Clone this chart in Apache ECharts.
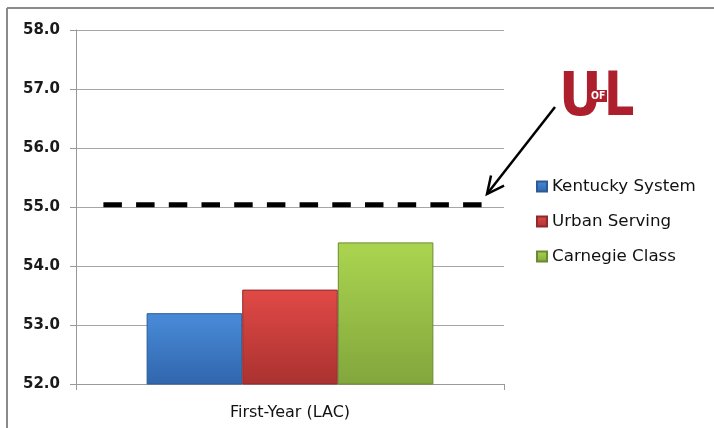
<!DOCTYPE html>
<html>
<head>
    <meta charset="utf-8">
    <title>First-Year (LAC)</title>
    <script src="https://cdn.jsdelivr.net/npm/echarts@6/dist/echarts.min.js"></script>
    <style>
        html, body { margin: 0; padding: 0; background: #fff; }
        #main { width: 714px; height: 428px; }
    </style>
</head>
<body>
    <div id="main"></div>
    <script type="text/javascript">
        // data
        var categories = ['First-Year (LAC)'];
        var seriesNames = ['Kentucky System', 'Urban Serving', 'Carnegie Class'];
        var kentuckyData = [53.2];
        var urbanData = [53.6];
        var carnegieData = [54.4];
        var benchmark = 55.04; // UofL dashed line
        var benchmarkSpan = [0.064, 0.948]; // share of plot width covered by the dashes
        var yTicks = { min: 52, max: 58, interval: 1 };

        // bar gradients (top -> bottom)
        function grad(top, bottom) {
            return new echarts.graphic.LinearGradient(0, 0, 0, 1, [
                { offset: 0, color: top },
                { offset: 0.06, color: top },
                { offset: 1, color: bottom }
            ]);
        }
        var barColors = [
            grad('#4889d6', '#3066ad'),
            grad('#de4845', '#aa3230'),
            grad('#a9d24f', '#82a63c')
        ];
        var barBorders = ['#2c5a95', '#8e2b2a', '#6a8a30'];

        var myChart = echarts.init(document.getElementById('main'));

        // arrow from logo to the dashed line
        var arrowFrom = [555, 107], arrowTo = [487, 194];
        var ang = Math.atan2(arrowFrom[1] - arrowTo[1], arrowFrom[0] - arrowTo[0]);
        var headLen = 19, headAng = 0.45;
        var arm1 = [arrowTo[0] + headLen * Math.cos(ang + headAng), arrowTo[1] + headLen * Math.sin(ang + headAng)];
        var arm2 = [arrowTo[0] + headLen * Math.cos(ang - headAng), arrowTo[1] + headLen * Math.sin(ang - headAng)];

        var barSeries = [kentuckyData, urbanData, carnegieData].map(function(d, i) {
            return {
                name: seriesNames[i],
                type: 'bar',
                barGap: 0,
                barCategoryGap: '33%',
                itemStyle: {
                    color: barColors[i],
                    borderColor: barBorders[i],
                    borderWidth: 1
                },
                data: d
            };
        });

        var logoRed = '#ad1f2d';

        var option = {
            animation: false,
            textStyle: { fontFamily: 'DejaVu Sans' },
            grid: { left: 76, right: 210, top: 30, bottom: 44 },
            legend: {
                orient: 'vertical',
                left: 531,
                top: 173,
                itemWidth: 10,
                itemHeight: 10,
                itemGap: 18,
                icon: 'rect',
                data: seriesNames,
                textStyle: { fontSize: 16.7, color: '#111' }
            },
            xAxis: [{
                type: 'category',
                data: categories,
                axisLine: { lineStyle: { color: '#999', width: 1 } },
                axisTick: { show: true, length: 6, lineStyle: { color: '#999' } },
                axisLabel: { margin: 21, fontSize: 16, color: '#111' }
            }, {
                type: 'value',
                min: 0,
                max: 1,
                show: false
            }],
            yAxis: {
                type: 'value',
                min: yTicks.min,
                max: yTicks.max,
                interval: yTicks.interval,
                axisLine: { show: true, lineStyle: { color: '#999', width: 1 } },
                axisTick: { show: true, length: 6, lineStyle: { color: '#999' } },
                splitLine: { lineStyle: { color: '#a6a6a6', width: 1 } },
                axisLabel: {
                    margin: 16,
                    fontSize: 15,
                    fontWeight: 'bold',
                    color: '#1a1a1a',
                    formatter: function(v) { return v.toFixed(1); }
                }
            },
            series: barSeries.concat([{
                name: 'UofL',
                type: 'line',
                xAxisIndex: 1,
                symbol: 'none',
                silent: true,
                z: 5,
                lineStyle: { color: '#000', width: 5, type: [18.5, 14.2], cap: 'butt' },
                data: [[benchmarkSpan[0], benchmark], [benchmarkSpan[1], benchmark]]
            }]),
            graphic: [
                // frame (top and left only)
                { type: 'line', shape: { x1: 7, y1: 8, x2: 714, y2: 8 }, style: { stroke: '#8a8a8a', lineWidth: 2 } },
                { type: 'line', shape: { x1: 7, y1: 8, x2: 7, y2: 428 }, style: { stroke: '#8a8a8a', lineWidth: 2 } },
                // arrow
                { type: 'line', shape: { x1: arrowFrom[0], y1: arrowFrom[1], x2: arrowTo[0], y2: arrowTo[1] }, style: { stroke: '#000', lineWidth: 2.5 } },
                { type: 'polyline', shape: { points: [arm1, arrowTo, arm2] }, style: { stroke: '#000', lineWidth: 2.5, fill: null } },
                // UofL logo: U, red bridge with white "OF", L
                { type: 'text', x: 559, y: 69, scaleX: 0.86, style: { text: 'U', font: 'bold 61px "DejaVu Sans"', fill: logoRed, textVerticalAlign: 'top' } },
                { type: 'rect', shape: { x: 592, y: 90, width: 15, height: 12 }, style: { fill: logoRed } },
                { type: 'text', x: 591, y: 90.5, scaleX: 0.85, z: 10, style: { text: 'OF', font: 'bold 11px "DejaVu Sans"', fill: '#fff', textVerticalAlign: 'top' } },
                { type: 'text', x: 604, y: 69, scaleX: 0.78, style: { text: 'L', font: 'bold 61px "DejaVu Sans"', fill: logoRed, textVerticalAlign: 'top' } }
            ]
        };

        myChart.setOption(option);
        window.onresize = myChart.resize;
    </script>
</body>
</html>
